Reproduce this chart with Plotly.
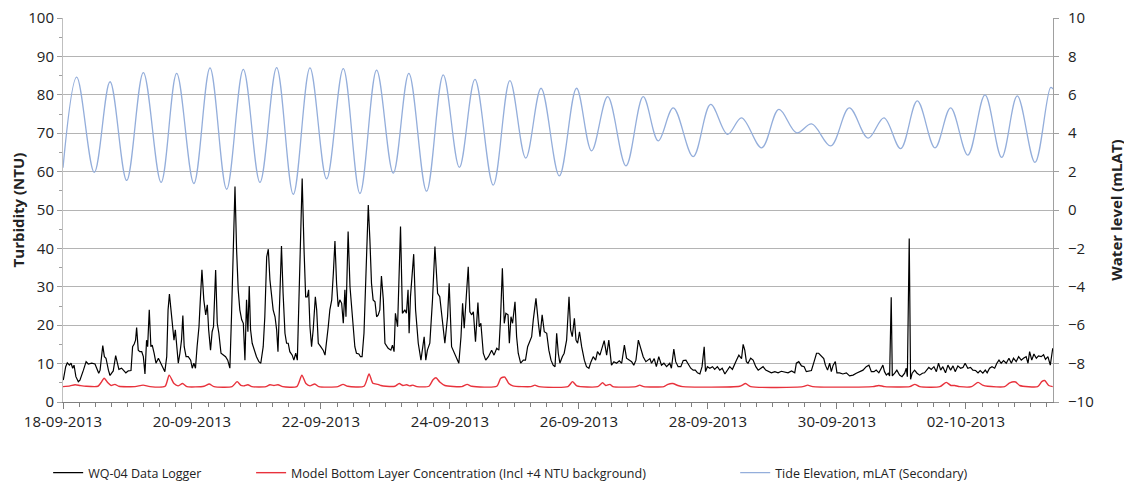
import pandas as pd
import plotly.graph_objects as go

START = pd.Timestamp("2013-09-18 00:00")

# WQ-04 Data Logger turbidity (NTU): hours since 18-09-2013 00:00, values
logger_hours = [0.1,1.0,1.6,2.4,3.0,3.6,4.1,4.8,5.7,6.3,7.6,8.6,9.4,10.7,11.9,12.5,13.3,13.8,14.3,14.8,15.4,16.0,16.9,17.5,18.1,18.7,19.6,20.2,20.8,21.8,22.7,23.4,24.3,25.3,25.9,26.5,27.0,27.4,28.0,28.6,29.3,29.9,30.5,31.1,31.5,32.1,32.7,33.2,33.9,34.6,35.5,36.3,37.3,37.9,38.6,39.1,39.6,40.2,40.8,41.3,41.8,42.3,42.9,43.5,44.1,44.6,45.1,45.8,46.6,47.5,48.1,48.7,49.3,49.9,50.6,51.1,51.7,52.4,53.1,53.7,54.2,54.9,55.5,56.0,56.8,57.4,58.0,58.8,59.6,60.5,61.3,62.1,62.7,63.4,64.0,64.6,65.2,65.8,66.5,67.1,67.7,68.3,68.8,69.3,69.8,70.4,71.2,72.0,72.9,73.6,74.5,75.1,75.8,76.4,77.0,77.6,78.2,78.9,79.5,80.0,80.7,81.3,81.9,82.6,83.2,83.8,84.4,85.3,85.9,86.6,87.2,87.8,88.4,89.0,89.7,90.3,90.9,91.4,91.9,92.5,93.1,93.9,94.4,95.0,95.9,96.8,97.5,98.1,98.7,99.3,100.0,100.6,101.2,101.8,102.4,103.0,103.7,104.3,104.9,105.3,106.1,106.8,107.4,108.0,108.6,109.2,110.1,110.7,111.3,112.0,112.7,113.6,114.2,114.8,115.4,116.1,116.7,117.3,117.9,118.5,119.2,
    119.8,121.0,122.0,122.6,123.2,123.7,124.5,125.6,126.3,127.2,127.8,128.4,128.8,129.3,129.9,130.5,131.2,132.2,133.2,133.8,134.4,135.0,135.6,136.5,137.5,138.4,139.4,140.2,141.1,142.1,143.1,143.7,
    144.6,145.5,146.5,147.3,148.1,148.7,149.3,150.0,150.8,151.4,152.1,152.7,153.5,154.4,154.9,155.5,156.4,157.3,158.3,159.5,160.4,161.4,162.2,162.8,163.5,164.2,164.8,165.6,166.1,166.7,167.3,168.2,168.8,169.4,170.3,171.3,172.1,172.9,173.8,174.4,175.0,176.0,176.9,177.5,178.3,179.1,180.0,180.8,181.6,182.4,183.1,183.7,184.3,184.9,185.8,186.5,187.4,188.3,188.9,189.5,190.3,190.9,191.5,192.2,193.0,194.0,194.8,195.7,196.5,197.3,198.2,198.9,199.8,200.8,201.4,202.3,203.1,204.1,205.0,206.0,207.0,207.9,208.9,209.7,210.6,211.6,212.4,213.2,214.1,214.9,215.9,216.9,
    217.5,218.4,219.0,220.0,220.8,221.7,222.7,223.6,224.6,225.8,226.4,227.3,228.0,228.9,229.9,230.8,231.8,232.6,233.6,234.5,235.3,236.1,237.0,237.8,238.6,239.1,239.8,240.7,241.7,242.5,243.5,244.4,245.3,246.3,247.3,248.1,249.1,250.0,250.6,251.5,252.5,253.1,253.7,254.3,254.9,255.9,256.8,257.8,258.7,259.7,260.5,261.5,262.4,263.6,264.9,266.1,267.3,268.6,269.8,271.1,272.3,272.9,273.8,274.8,275.8,276.6,277.6,278.5,279.5,280.4,281.2,282.2,283.1,283.7,284.5,285.3,285.9,286.6,287.4,288.0,289.0,
    290.2,291.5,292.7,294.0,295.2,296.4,297.7,298.9,299.9,300.8,301.8,302.6,303.6,304.5,305.1,305.7,306.4,307.1,307.6,308.2,308.6,309.5,310.3,311.3,312.2,313.2,313.8,314.2,314.9,315.4,316.0,316.9,317.8,318.8,319.8,320.6,321.5,322.2,323.1,324.1,325.0,325.8,326.6,327.4,328.4,329.3,330.3,331.2,332.0,333.0,334.0,334.9,335.7,336.7,337.7,338.6,339.6,340.5,341.3,342.3,343.2,343.9,344.8,345.7,346.7,347.5,348.3,349.1,350.0,351.0,352.0,352.9,353.7,354.7,355.6,356.6,357.4,358.4,359.1,359.7,360.5,361.3,362.2,363.0,364.0,364.9,365.6,366.5,367.4,368.1,368.3]
logger_ntu = [5.7,9.2,10.2,9.6,10.1,8.8,9.6,6.6,5.3,5.7,8.3,10.5,9.9,10.1,9.9,8.8,7.5,8.3,11.8,14.7,11.8,11.4,8.3,6.9,7.5,8.1,12.1,10.1,8.5,8.8,8.2,7.6,8.1,8.2,14.4,15.1,16.1,19.4,13.5,13.1,13.1,11.8,7.3,16.1,14.4,24.0,14.4,14.8,12.7,10.1,11.4,10.1,8.8,7.9,11.8,24.0,28.1,23.1,19.2,16.1,18.8,14.0,10.1,12.7,16.1,22.5,14.4,11.8,11.8,10.9,8.8,10.1,8.8,14.4,19.6,26.6,34.4,26.6,22.7,25.3,18.8,13.5,18.3,19.6,34.4,20.5,17.9,12.7,12.2,11.8,10.9,8.8,22.2,39.6,56.1,39.6,29.2,24.0,21.4,20.5,10.9,26.6,18.3,30.2,18.8,15.3,13.5,11.8,10.5,10.1,14.4,22.2,37.8,39.8,31.8,28.3,24.0,22.2,18.8,13.1,25.7,40.6,28.3,17.9,15.3,15.3,13.1,12.2,10.9,12.7,10.9,26.6,39.6,58.2,39.6,27.4,27.4,29.2,19.6,14.4,18.8,27.4,24.0,15.3,14.4,13.5,12.2,17.0,19.6,24.0,26.6,33.5,41.9,30.9,24.8,26.6,25.7,20.5,29.2,22.2,44.4,30.0,24.4,17.9,14.4,12.7,12.5,11.8,11.8,17.9,30.9,51.3,42.2,30.9,26.6,26.1,22.2,22.7,24.0,32.8,26.6,
    15.3,14.0,13.5,14.8,13.1,23.1,19.6,45.7,23.1,24.0,23.1,29.2,17.9,27.4,32.2,38.5,24.0,15.3,10.9,13.5,17.0,10.9,13.5,15.3,26.6,40.5,28.3,27.4,22.2,15.3,22.2,30.9,
    14.4,13.1,11.4,10.1,17.0,25.7,19.2,27.4,35.2,23.5,22.7,23.5,15.7,25.9,19.6,20.5,12.7,10.9,11.8,13.5,12.2,14.0,13.5,21.4,34.8,20.5,23.1,22.7,15.3,22.2,20.5,26.1,17.0,12.7,10.1,10.9,10.9,14.4,16.1,17.0,21.4,27.0,20.5,17.0,22.7,18.3,17.9,13.5,10.9,9.6,9.2,17.9,12.7,10.1,11.8,12.7,16.1,27.4,18.8,17.0,21.8,16.1,15.3,18.3,14.4,10.9,9.2,8.8,10.5,11.8,10.9,13.1,12.2,14.4,16.0,12.2,16.1,9.6,10.5,10.1,10.7,10.1,14.8,11.4,10.9,10.5,9.6,10.9,16.1,14.4,11.8,10.5,
    10.9,11.3,10.1,11.3,9.2,11.8,9.6,10.1,9.2,10.1,8.8,13.8,10.5,9.2,9.2,10.8,10.9,10.1,8.8,8.3,8.3,7.6,7.3,9.2,14.4,7.9,9.2,8.8,9.2,8.5,9.2,8.3,8.8,7.3,8.3,9.2,8.5,10.1,10.9,12.2,11.3,15.0,13.5,10.5,10.1,11.4,10.9,9.2,8.3,8.8,9.2,8.3,7.9,7.6,7.9,7.6,8.0,7.7,7.6,8.1,7.6,10.1,10.5,9.4,9.2,7.9,8.1,8.2,10.5,12.7,12.7,11.8,11.3,9.6,8.3,10.1,7.9,9.6,10.5,7.6,7.6,
    7.3,7.6,6.8,7.0,7.5,7.9,8.3,9.2,9.6,7.9,7.9,8.3,7.6,8.8,9.6,7.9,7.0,7.5,6.8,27.3,6.8,7.5,8.3,7.0,6.6,7.5,8.8,6.6,42.6,5.9,7.5,8.3,7.5,7.0,7.5,7.6,8.3,9.0,8.5,9.2,7.9,10.1,8.3,9.2,7.6,9.6,8.3,9.4,7.9,9.4,8.8,9.0,10.1,8.8,9.0,8.3,8.2,7.6,8.2,7.5,8.3,7.6,8.8,9.2,8.8,10.1,10.9,10.1,10.8,10.1,11.4,10.1,11.4,10.5,11.8,10.9,11.4,11.8,10.1,13.1,10.9,12.5,11.4,12.0,11.8,12.3,11.1,11.8,9.6,13.5,14.0]

# Model Bottom Layer Concentration (incl +4 NTU background)
model_hours = [0,2.6,4.5,6.3,8.6,13.0,14.1,15.3,16.7,17.9,19.3,20.8,26.8,29.8,32.4,38.0,39.5,41.3,42.8,44.5,46.1,52.5,54.4,56.2,62.9,64.8,66.2,67.3,68.8,70.3,75.5,77.0,78.5,80.0,81.8,87.0,88.9,90.4,91.9,93.7,95.2,102.3,104.2,106.0,112.0,113.9,115.3,117.2,118.3,120.2,123.5,125.1,126.5,127.9,129.1,130.2,131.7,136.2,137.7,138.8,140.2,142.1,148.4,150.4,152.1,161.4,162.9,164.4,165.9,167.4,174.1,175.6,177.1,187.9,189.6,191.2,199.0,200.8,202.0,203.5,204.6,213.2,214.6,216.1,223.6,225.1,226.9,228.8,230.6,251.8,254.0,255.9,275.3,277.1,279.0,301.3,303.6,305.8,315.1,317.0,318.8,326.3,328.7,330.4,331.8,333.7,338.1,340.5,342.2,344.1,350.4,352.3,354.5,356.0,362.7,364.2,365.3,366.8,368.3]
model_ntu = [4.0,4.2,4.5,4.3,4.1,4.1,5.0,6.2,5.0,4.3,4.6,4.1,4.0,4.4,4.0,4.1,7.0,4.8,4.2,4.8,4.0,4.1,4.7,4.0,4.0,5.3,4.3,4.2,4.5,4.0,4.0,4.5,4.3,4.5,4.0,4.0,7.0,4.8,4.2,4.7,4.0,4.0,4.6,4.1,4.1,7.3,4.9,4.6,4.3,4.1,4.1,4.8,4.3,4.5,4.2,4.4,4.0,4.1,5.8,6.3,5.2,4.3,4.0,4.6,4.1,4.1,6.2,6.5,4.8,4.2,4.0,4.4,4.0,4.0,5.3,4.2,4.0,5.0,4.3,4.6,4.0,4.0,4.4,4.0,4.0,4.6,4.8,4.3,4.0,4.1,4.8,4.0,4.0,4.4,4.0,4.0,4.3,4.0,4.0,4.6,4.0,4.0,5.1,4.3,4.3,4.0,4.0,5.1,4.4,4.1,4.0,5.0,5.2,4.3,4.0,5.3,5.6,4.3,4.0]

# Tide elevation (mLAT), high/low waters
tide_hours = [0,5.1,11.65,17.5,23.7,29.9,36.5,42.3,48.7,54.7,60.9,67.1,73.3,79.5,85.7,91.9,98.1,104.3,110.5,116.7,122.9,128.7,135.3,141.5,147.5,153.3,160.1,166.3,172.2,177.9,184.7,191.1,196.7,202.7,209.5,215.9,221.5,227.1,234.5,241.0,247.3,252.5,260.0,266.4,273.0,278.6,285.7,292.6,299.6,305.5,311.7,317.9,324.5,330.3,336.7,343.1,349.3,355.1,361.7,367.5,368.4]
tide_mlat = [2.2,6.92,1.96,6.68,1.54,7.16,1.44,7.12,1.38,7.4,1.08,7.32,1.44,7.42,0.82,7.4,1.62,7.36,0.86,7.28,1.92,7.12,0.98,7.04,2.22,6.8,1.3,6.74,2.7,6.34,1.78,6.34,3.08,5.9,2.3,5.9,3.6,5.32,2.78,5.5,3.94,4.8,3.24,5.24,4.02,4.48,3.34,5.32,3.74,4.8,3.2,5.68,3.24,5.32,2.86,6.0,2.74,5.94,2.48,6.38,6.3]

series_names = ["WQ-04 Data Logger",
                "Model Bottom Layer Concentration (Incl +4 NTU background)",
                "Tide Elevation, mLAT (Secondary)"]


def to_time(hours):
    return START + pd.to_timedelta(hours, unit="h")


FONT = "Open Sans, Arial, sans-serif"

fig = go.Figure()
fig.add_trace(go.Scatter(x=to_time(tide_hours), y=tide_mlat, yaxis="y2", mode="lines",
                         line=dict(color="#94aedb", width=1.3, shape="spline", smoothing=1.0),
                         name=series_names[2], legend="legend3"))
fig.add_trace(go.Scatter(x=to_time(logger_hours), y=logger_ntu, mode="lines",
                         line=dict(color="#000000", width=1.2),
                         name=series_names[0], legend="legend"))
fig.add_trace(go.Scatter(x=to_time(model_hours), y=model_ntu, mode="lines",
                         line=dict(color="#e8323c", width=1.4, shape="spline", smoothing=0.6),
                         name=series_names[1], legend="legend2"))

leg_common = dict(orientation="h", yanchor="middle", y=-0.185, xanchor="left",
                  font=dict(family=FONT, size=12.5, color="#222"), bgcolor="rgba(0,0,0,0)")

# page body has an 8px margin: figure is sized/placed to fill the visible window
fig.update_layout(
    template="none",
    width=1124, height=479,
    margin=dict(l=55, r=79, t=10, b=85, autoexpand=False),
    paper_bgcolor="white", plot_bgcolor="white",
    font=dict(family=FONT, size=15, color="#222"),
    showlegend=True,
    legend=dict(leg_common, x=-0.015),
    legend2=dict(leg_common, x=0.19),
    legend3=dict(leg_common, x=0.679),
    xaxis=dict(type="date", range=[START, START + pd.Timedelta(hours=368.4)], automargin=False,
               tickformat="%d-%m-%Y", dtick=2 * 86400000, tick0=START,
               ticks="outside", ticklen=6, tickcolor="#808080", ticklabeloverflow="allow",
               minor=dict(dtick=6 * 3600000, ticks="outside", ticklen=4, tickcolor="#808080"),
               showline=True, linecolor="#808080", linewidth=1, showgrid=False, zeroline=False,
               tickfont=dict(size=15)),
    yaxis=dict(range=[0, 100], dtick=10, showgrid=True, gridcolor="#b4b4b4", gridwidth=1,
               automargin=False, ticklabeloverflow="allow",
               ticks="outside", ticklen=5, tickcolor="#a0a0a0",
               minor=dict(dtick=5, ticks="outside", ticklen=3, tickcolor="#a0a0a0", showgrid=False),
               showline=True, linecolor="#bfbfbf", zeroline=False,
               title=dict(text="<b>Turbidity (NTU)</b>", font=dict(size=15), standoff=5),
               tickfont=dict(size=15)),
    yaxis2=dict(range=[-10, 10], dtick=2, overlaying="y", side="right", showgrid=False,
                automargin=False, ticklabeloverflow="allow",
                ticks="outside", ticklen=5, tickcolor="#a0a0a0", ticklabelstandoff=6,
                showline=True, linecolor="#a0a0a0", zeroline=False,
                title=dict(text="<b>Water level (mLAT)</b>", font=dict(size=15), standoff=18),
                tickfont=dict(size=15)),
)

fig.write_html("out.html")
